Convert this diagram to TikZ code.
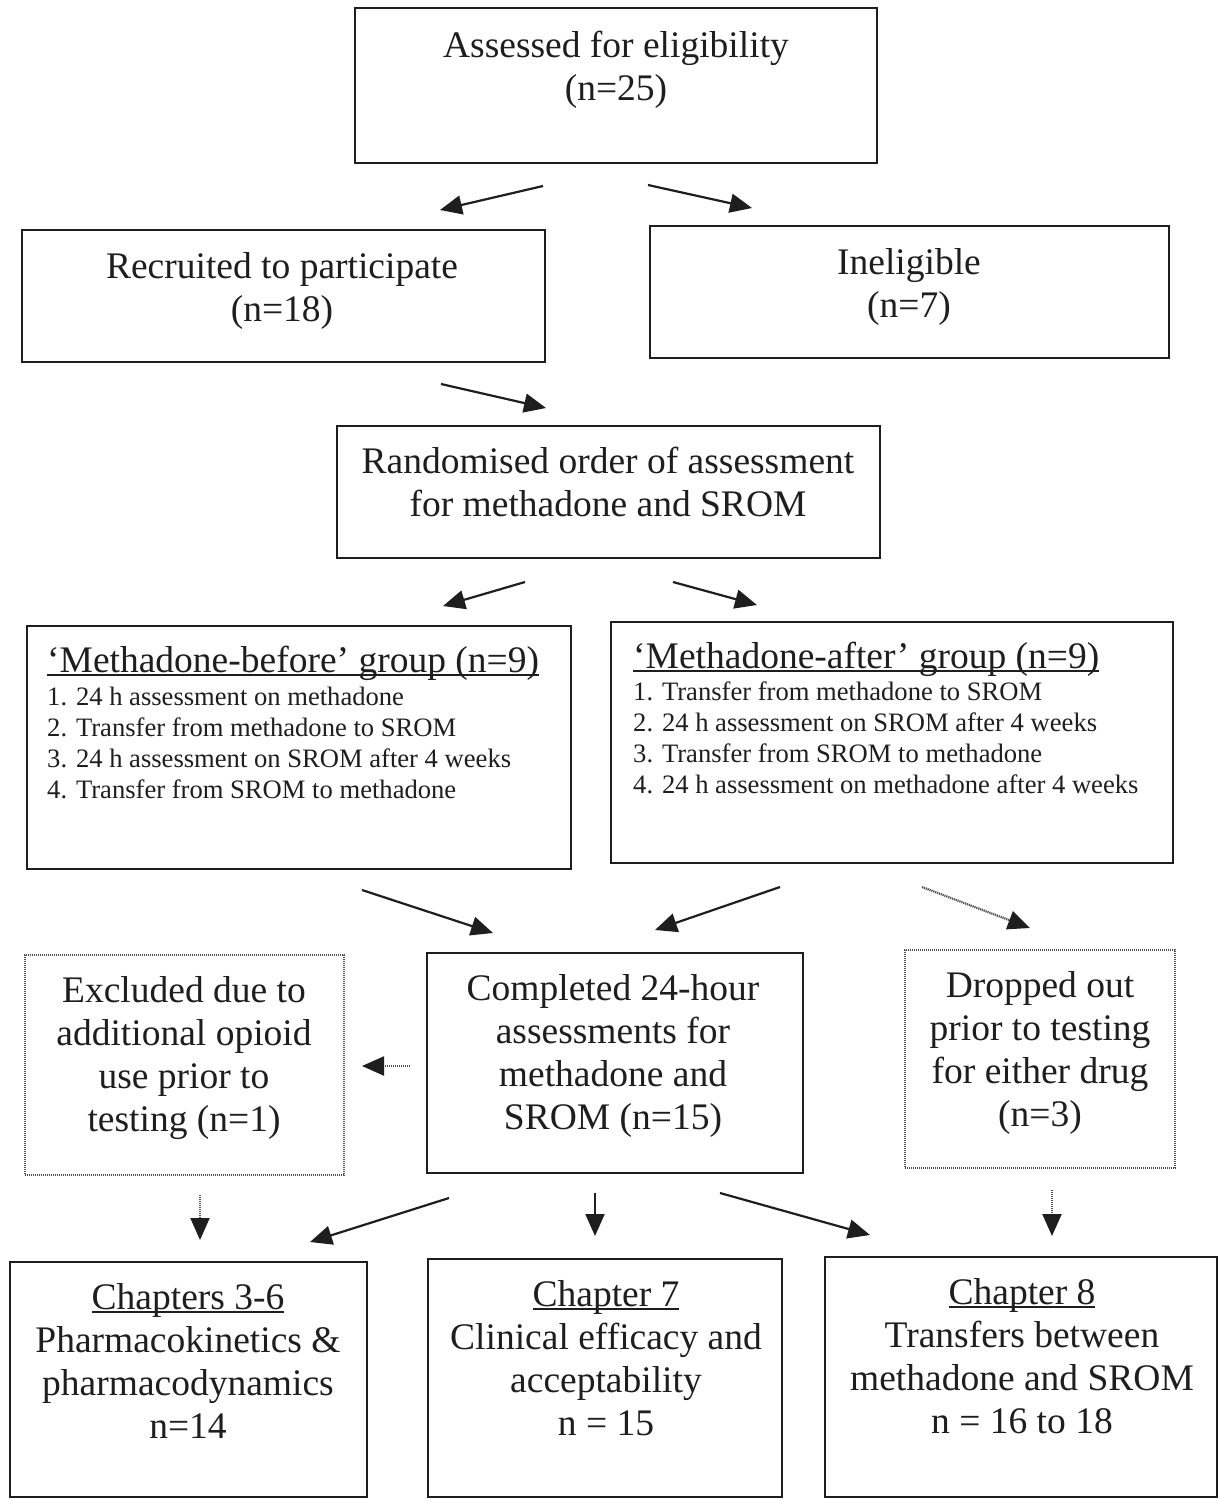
\documentclass[tikz,border=0pt]{standalone}
\usepackage{fontspec}
\setmainfont{Liberation Serif}
\usetikzlibrary{arrows.meta}
\definecolor{ink}{HTML}{1E1E1E}
\definecolor{dotink}{HTML}{505050}
% underline sitting just under the baseline
\newcommand{\headul}[1]{\setbox0\hbox{#1}\rlap{\rule[-4pt]{\wd0}{1.8pt}}\box0}
\tikzset{
  frame/.style={draw=ink, line width=2.2pt, inner sep=0pt},
  dotframe/.style={draw=dotink, line width=2.6pt, dash pattern=on 1.2pt off 0.8pt, inner sep=0pt},
  bigtxt/.style={font=\fontsize{37.5}{43}\selectfont, text=ink, align=center, anchor=base, inner sep=0pt},
  smalltxt/.style={font=\fontsize{26.6}{31}\selectfont, text=ink, align=left, anchor=base west, inner sep=0pt},
  arr/.style={-{Triangle[length=22pt,width=19pt,color=ink]}, line width=2.2pt, draw=ink},
  dotarr/.style={arr, draw=dotink, dash pattern=on 1.2pt off 0.8pt}
}
\begin{document}
\begin{tikzpicture}[x=1pt, y=-1pt]
\useasboundingbox (0,0) rectangle (1219,1500);

% Eligibility
\node[frame, minimum width=522, minimum height=155] (assessed) at (616,85.5) {};
\node[bigtxt] (assessedtext) at (616,100) {Assessed for eligibility\\(n=25)};
\node[frame, minimum width=523, minimum height=132] (recruited) at (283.5,296) {};
\node[bigtxt] (recruitedtext) at (282,321) {Recruited to participate\\(n=18)};
\node[frame, minimum width=519, minimum height=132] (ineligible) at (909.5,292) {};
\node[bigtxt] (ineligibletext) at (909,317) {Ineligible\\(n=7)};
\coordinate (a1s) at (543,186); \coordinate (a1e) at (440,210);
\coordinate (a2s) at (648,185); \coordinate (a2e) at (752,208);
\draw[arr] (a1s) -- (a1e);
\draw[arr] (a2s) -- (a2e);

% Randomisation
\node[frame, minimum width=543, minimum height=132] (randomised) at (608.5,492) {};
\node[bigtxt] (randomisedtext) at (608,516) {Randomised order of assessment\\for methadone and SROM};
\coordinate (a3s) at (441,384); \coordinate (a3e) at (546,408);
\draw[arr] (a3s) -- (a3e);

% Groups
\node[frame, minimum width=544, minimum height=243] (before) at (299,747.5) {};
\node[bigtxt, anchor=base west] (beforehead) at (47,672) {\headul{‘Methadone-before’ group (n=9)}};
\node[smalltxt] (beforelist) at (47,798) {1. 24 h assessment on methadone\\2. Transfer from methadone to SROM\\3. 24 h assessment on SROM after 4 weeks\\4. Transfer from SROM to methadone};
\node[frame, minimum width=562, minimum height=241] (after) at (892,742.5) {};
\node[bigtxt, anchor=base west] (afterhead) at (633,668) {\headul{‘Methadone-after’ group (n=9)}};
\node[smalltxt] (afterlist) at (633,793) {1. Transfer from methadone to SROM\\2. 24 h assessment on SROM after 4 weeks\\3. Transfer from SROM to methadone\\4. 24 h assessment on methadone after 4 weeks};
\coordinate (a4s) at (525,582); \coordinate (a4e) at (443,606);
\coordinate (a5s) at (673,582); \coordinate (a5e) at (757,605);
\draw[arr] (a4s) -- (a4e);
\draw[arr] (a5s) -- (a5e);

% Outcomes
\node[dotframe, minimum width=319, minimum height=220] (excluded) at (184.5,1065) {};
\node[bigtxt] (excludedtext) at (184,1131) {Excluded due to\\additional opioid\\use prior to\\testing (n=1)};
\node[frame, minimum width=376, minimum height=220] (completed) at (615,1063) {};
\node[bigtxt] (completedtext) at (613,1129) {Completed 24-hour\\assessments for\\methadone and\\SROM (n=15)};
\node[dotframe, minimum width=270, minimum height=218] (dropped) at (1040,1059) {};
\node[bigtxt] (droppedtext) at (1040,1126) {Dropped out\\prior to testing\\for either drug\\(n=3)};
\coordinate (a6s) at (362,890); \coordinate (a6e) at (493,933);
\coordinate (a7s) at (780,887); \coordinate (a7e) at (655,930);
\coordinate (a8s) at (922,887); \coordinate (a8e) at (1030,928);
\coordinate (a9s) at (410,1066); \coordinate (a9e) at (362,1066);
\draw[arr] (a6s) -- (a6e);
\draw[arr] (a7s) -- (a7e);
\draw[dotarr] (a8s) -- (a8e);
\draw[dotarr] (a9s) -- (a9e);

% Chapters
\node[frame, minimum width=357, minimum height=235] (chapA) at (188.5,1379.5) {};
\node[bigtxt] (chapAtext) at (188,1438) {\headul{Chapters 3-6}\\Pharmacokinetics \&\\pharmacodynamics\\n=14};
\node[frame, minimum width=354, minimum height=238] (chapB) at (605,1378) {};
\node[bigtxt] (chapBtext) at (606,1435) {\headul{Chapter 7}\\Clinical efficacy and\\acceptability\\n = 15};
\node[frame, minimum width=392, minimum height=240] (chapC) at (1021,1377) {};
\node[bigtxt] (chapCtext) at (1022,1433) {\headul{Chapter 8}\\Transfers between\\methadone and SROM\\n = 16 to 18};
\coordinate (a10s) at (200,1195); \coordinate (a10e) at (200,1240);
\coordinate (a11s) at (449,1198); \coordinate (a11e) at (310,1242);
\coordinate (a12s) at (595,1193); \coordinate (a12e) at (595,1236);
\coordinate (a13s) at (720,1193); \coordinate (a13e) at (870,1235);
\coordinate (a14s) at (1052,1190); \coordinate (a14e) at (1052,1236);
\draw[dotarr] (a10s) -- (a10e);
\draw[arr] (a11s) -- (a11e);
\draw[arr] (a12s) -- (a12e);
\draw[arr] (a13s) -- (a13e);
\draw[dotarr] (a14s) -- (a14e);
\end{tikzpicture}
\end{document}
